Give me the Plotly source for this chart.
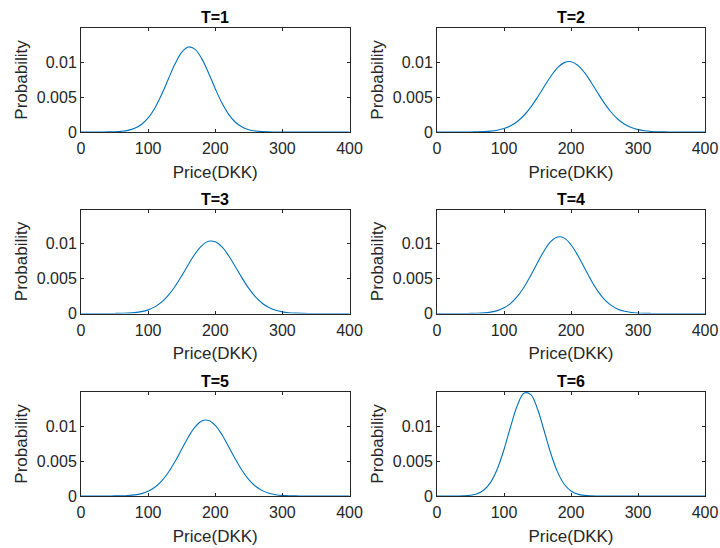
import plotly.graph_objects as go

price = [0, 10, 20, 30, 40, 50, 60, 70, 80, 90, 100, 110, 120, 130, 140, 150, 160, 170, 180, 190, 200,
         210, 220, 230, 240, 250, 260, 270, 280, 290, 300, 310, 320, 330, 340, 350, 360, 370, 380, 390, 400]

prob_t1 = [0, 0, 0, 0.000004, 0.000012, 0.000034, 0.000094, 0.00023, 0.00053, 0.00108, 0.00201, 0.00345,
           0.00535, 0.00755, 0.00973, 0.01141, 0.01218, 0.01184, 0.01048, 0.00846, 0.00621, 0.00415, 0.00253,
           0.0014, 0.00071, 0.00033, 0.00014, 0.000052, 0.000018, 0.000006, 0, 0, 0, 0, 0, 0, 0, 0, 0, 0, 0]
prob_t2 = [0, 0, 0, 0, 0.000004, 0.00001, 0.000024, 0.000057, 0.000126, 0.00026, 0.00049, 0.00089, 0.00151,
           0.0024, 0.00357, 0.00498, 0.00651, 0.00799, 0.00921, 0.00994, 0.01007, 0.00957, 0.00853, 0.00713,
           0.00558, 0.00411, 0.00283, 0.00183, 0.00111, 0.00063, 0.00034, 0.00017, 0.000079, 0.000035, 0.000014,
           0.000005, 0, 0, 0, 0, 0]
prob_t3 = [0, 0, 0, 0, 0, 0.000009, 0.000024, 0.000057, 0.000127, 0.000266, 0.00052, 0.00095, 0.00162, 0.00259,
           0.00387, 0.00539, 0.00703, 0.00856, 0.00973, 0.01034, 0.01027, 0.00953, 0.00827, 0.0067, 0.00507,
           0.00359, 0.00237, 0.00147, 0.00085, 0.00046, 0.00023, 0.00011, 0.000048, 0.00002, 0.000007, 0, 0, 0,
           0, 0, 0]
prob_t4 = [0, 0, 0, 0, 0.000005, 0.000013, 0.000035, 0.000087, 0.000196, 0.00041, 0.00081, 0.00146, 0.00244,
           0.00379, 0.00545, 0.00728, 0.009, 0.01032, 0.01096, 0.0108, 0.00985, 0.00834, 0.00655, 0.00476,
           0.00321, 0.002, 0.00116, 0.00062, 0.00031, 0.000143, 0.000061, 0.000024, 0.000009, 0.000003, 0, 0, 0,
           0, 0, 0, 0]
prob_t5 = [0, 0, 0, 0, 0.000004, 0.000011, 0.000028, 0.00007, 0.00016, 0.00034, 0.00068, 0.00125, 0.00213,
           0.00336, 0.00493, 0.0067, 0.00846, 0.0099, 0.01075, 0.01083, 0.01013, 0.00878, 0.00706, 0.00527,
           0.00365, 0.00234, 0.0014, 0.00077, 0.0004, 0.00019, 0.000083, 0.000034, 0.000013, 0.000005, 0, 0, 0,
           0, 0, 0, 0]
prob_t6 = [0, 0, 0.000002, 0.000008, 0.000032, 0.00011, 0.00033, 0.00086, 0.00196, 0.00387, 0.00666, 0.00998,
           0.013, 0.01474, 0.01453, 0.01247, 0.00931, 0.00605, 0.00342, 0.00168, 0.00072, 0.00027, 0.000087,
           0.000024, 0.000006, 0, 0, 0, 0, 0, 0, 0, 0, 0, 0, 0, 0, 0, 0, 0, 0]

titles = ["T=1", "T=2", "T=3", "T=4", "T=5", "T=6"]
series = [prob_t1, prob_t2, prob_t3, prob_t4, prob_t5, prob_t6]
x_ticks = [0, 100, 200, 300, 400]
y_ticks = [0, 0.005, 0.01]
y_tick_text = ["0", "0.005", "0.01"]

W, H = 720, 548
col_dom = [[81 / W, 349.5 / W], [437 / W, 705 / W]]
row_px = [(28, 132), (209.5, 313.5), (392, 496)]
row_dom = [[1 - b / H, 1 - t / H] for (t, b) in row_px]

font = "Liberation Sans, Arial, sans-serif"
axcol = "#262626"
fig = go.Figure()
annotations = []
for i, (ttl, ys) in enumerate(zip(titles, series)):
    r, c = divmod(i, 2)
    n = "" if i == 0 else str(i + 1)
    fig.add_trace(go.Scatter(x=price, y=ys, mode="lines",
                             line=dict(color="#0072BD", width=1.1, shape="spline", smoothing=1.0),
                             xaxis="x" + n, yaxis="y" + n, showlegend=False, hoverinfo="x+y"))
    common = dict(showgrid=False, zeroline=False, showline=True, mirror="ticks", linecolor=axcol, linewidth=1,
                  ticks="inside", ticklen=3, tickcolor=axcol, automargin=False,
                  tickfont=dict(family=font, size=16, color=axcol))
    fig.layout["xaxis" + n] = dict(common, domain=col_dom[c], anchor="y" + n, range=[0, 400],
                                   tickvals=x_ticks, ticklabelstandoff=2,
                                   title=dict(text="Price(DKK)", font=dict(family=font, size=17, color=axcol),
                                              standoff=9))
    fig.layout["yaxis" + n] = dict(common, domain=row_dom[r], anchor="x" + n, range=[0, 0.0149],
                                   tickvals=y_ticks, ticktext=y_tick_text,
                                   title=dict(text="Probability", font=dict(family=font, size=17, color=axcol),
                                              standoff=4))
    annotations.append(dict(text="<b>" + ttl + "</b>", x=(col_dom[c][0] + col_dom[c][1]) / 2, y=row_dom[r][1],
                            xref="paper", yref="paper", xanchor="center", yanchor="bottom", yshift=0,
                            showarrow=False, font=dict(family=font, size=16, color="black")))

fig.update_layout(width=W, height=H, margin=dict(l=0, r=0, t=0, b=0, autoexpand=False), paper_bgcolor="white",
                  plot_bgcolor="white", annotations=annotations)
fig.write_html("out.html", config={"displayModeBar": False},
               post_script="document.body.style.margin='0px';document.body.style.overflow='hidden';")
